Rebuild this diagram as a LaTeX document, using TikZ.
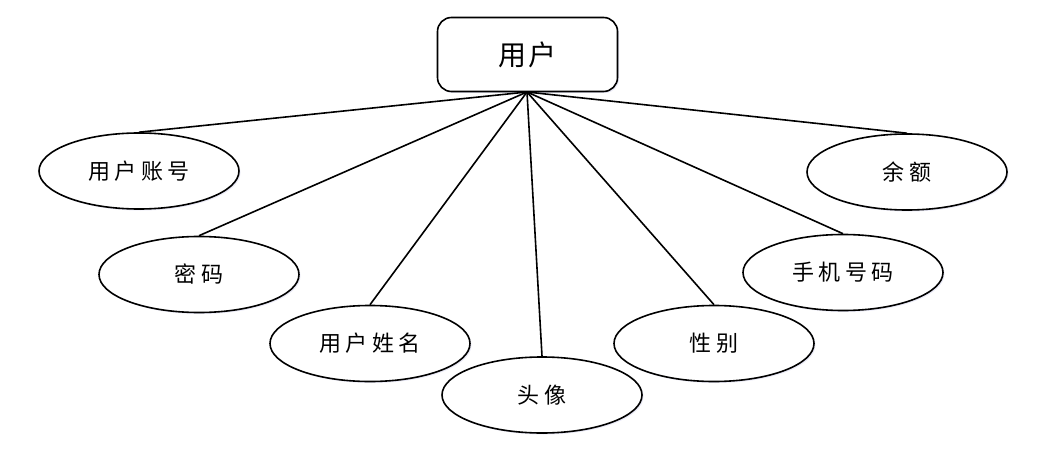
\documentclass[tikz,border=0pt]{standalone}
\usepackage{fontspec}
\newfontfamily\cjk{Noto Sans CJK SC}
\newfontfamily\cjkwide[LetterSpace=20]{Noto Sans CJK SC}
\newfontfamily\cjkbox[LetterSpace=10]{Noto Sans CJK SC}
\usetikzlibrary{shapes.geometric,shadows}
\tikzset{
  attr/.style={ellipse, draw, line width=1.6pt, fill=white, minimum width=200pt, minimum height=76pt, inner sep=0pt,
     font=\cjkwide\fontsize{22}{22}\selectfont,
     drop shadow={shadow xshift=1.5pt, shadow yshift=-1.5pt, fill=blue!40!gray, opacity=0.12}},
  entity/.style={rectangle, rounded corners=14pt, draw, line width=1.6pt, fill=white, minimum width=180pt, minimum height=74pt,
     font=\cjkbox\fontsize{28}{28}\selectfont,
     drop shadow={shadow xshift=1.5pt, shadow yshift=-1.5pt, fill=blue!40!gray, opacity=0.12}},
  link/.style={line width=1.6pt}
}
\begin{document}
\begin{tikzpicture}[x=1pt,y=-1pt]
\useasboundingbox (0,0) rectangle (1059,465);
\node[entity] (u) at (527.5,54.5) {用户};
\coordinate (hub) at (527,92);
\node[attr] (a1) at (139,171) {用户账号};
\node[attr] (a2) at (199,274.5) {密码};
\node[attr] (a3) at (370,343.5) {用户姓名};
\node[attr] (a4) at (542,395) {头像};
\node[attr] (a5) at (714,343.5) {性别};
\node[attr] (a6) at (843,272.5) {手机号码};
\node[attr] (a7) at (907,172) {余额};
\foreach \a in {a1,a2,a3,a4,a5,a6,a7}{
  \draw[link] (hub) -- (\a.north);
}
\end{tikzpicture}
\end{document}
